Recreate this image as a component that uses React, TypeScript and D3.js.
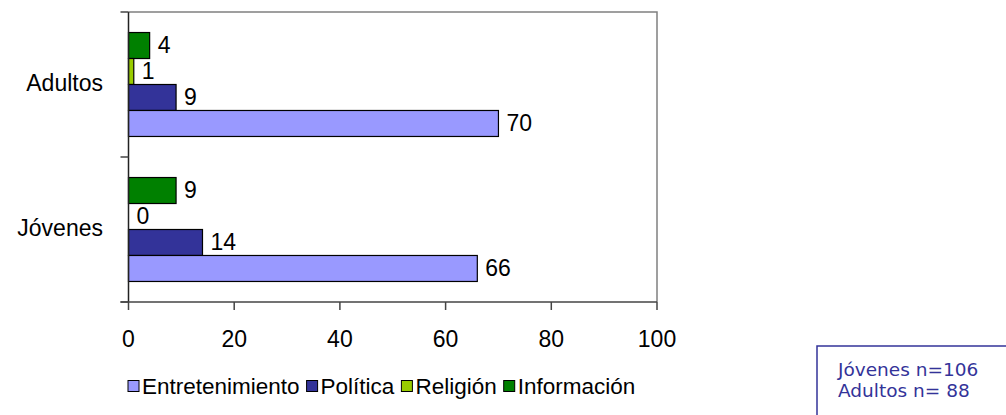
import React, { useEffect, useRef } from 'react';
import * as d3 from 'd3';

const categories = ['Adultos', 'Jóvenes'];
const seriesNames = ['Información', 'Religión', 'Política', 'Entretenimiento'];
const entretenimiento = [70, 66];
const politica = [9, 14];
const religion = [1, 0];
const informacion = [4, 9];
const xTicks = [0, 20, 40, 60, 80, 100];
const legendOrder = ['Entretenimiento', 'Política', 'Religión', 'Información'];
const sampleNotes = ['Jóvenes n=106', 'Adultos n= 88'];

const colors: Record<string, string> = {
  Entretenimiento: '#9999ff',
  Política: '#333399',
  Religión: '#99cc00',
  Información: '#008000',
};

const W = 1006;
const H = 415;
const FONT = '"Liberation Sans", Arial, sans-serif';

export default function App() {
  const ref = useRef<SVGSVGElement>(null);

  useEffect(() => {
    const svg = d3.select(ref.current);
    svg.selectAll('*').remove();

    const values: Record<string, number[]> = {
      Entretenimiento: entretenimiento,
      Política: politica,
      Religión: religion,
      Información: informacion,
    };

    const left = 128.5, right = 657, top = 12, bottom = 302;

    const x = d3.scaleLinear().domain([0, 100]).range([left, right]);
    const y0 = d3.scaleBand<string>().domain(categories).range([top, bottom]);
    const y1 = d3.scaleBand<string>()
      .domain(seriesNames)
      .range([0, y0.bandwidth()])
      .paddingInner(0)
      .paddingOuter(0.79);

    // frame: grey top/right border
    svg.append('path')
      .attr('d', `M${left},${top}H${right}V${bottom}`)
      .attr('fill', 'none')
      .attr('stroke', '#808080')
      .attr('stroke-width', 1.5);

    // bars + value labels
    categories.forEach((cat, ci) => {
      const g = svg.append('g').attr('transform', `translate(0,${y0(cat)})`);
      seriesNames.forEach((s) => {
        const v = values[s][ci];
        const by = y1(s)!;
        const bh = y1.bandwidth();
        if (v > 0) {
          g.append('rect')
            .attr('x', x(0))
            .attr('y', by)
            .attr('width', x(v) - x(0))
            .attr('height', bh)
            .attr('fill', colors[s])
            .attr('stroke', '#000')
            .attr('stroke-width', 1.2);
        }
        g.append('text')
          .attr('x', x(v) + 8)
          .attr('y', by + bh / 2 - 1)
          .attr('dy', '0.35em')
          .attr('font-family', FONT)
          .attr('font-size', 23)
          .attr('fill', '#000')
          .text(v);
      });
    });

    // y axis
    svg.append('line')
      .attr('x1', left).attr('x2', left)
      .attr('y1', top).attr('y2', bottom)
      .attr('stroke', '#222').attr('stroke-width', 1.5);
    const yTickPos = [top, ...categories.slice(1).map((c) => y0(c)!), bottom];
    yTickPos.forEach((p) => {
      svg.append('line')
        .attr('x1', left - 8).attr('x2', left)
        .attr('y1', p).attr('y2', p)
        .attr('stroke', '#444').attr('stroke-width', 1.5);
    });
    categories.forEach((c) => {
      svg.append('text')
        .attr('x', 103)
        .attr('y', y0(c)! + y0.bandwidth() / 2 - 2)
        .attr('dy', '0.35em')
        .attr('text-anchor', 'end')
        .attr('font-family', FONT)
        .attr('font-size', 23)
        .text(c);
    });

    // x axis
    svg.append('line')
      .attr('x1', left - 8).attr('x2', right)
      .attr('y1', bottom).attr('y2', bottom)
      .attr('stroke', '#444').attr('stroke-width', 1.5);
    xTicks.forEach((t) => {
      svg.append('line')
        .attr('x1', x(t)).attr('x2', x(t))
        .attr('y1', bottom).attr('y2', bottom + 8)
        .attr('stroke', '#444').attr('stroke-width', 1.5);
      svg.append('text')
        .attr('x', x(t))
        .attr('y', 347)
        .attr('text-anchor', 'middle')
        .attr('font-family', FONT)
        .attr('font-size', 23)
        .text(t);
    });

    // legend
    const lg = svg.append('g');
    let lx = 128;
    const ly = 386;
    legendOrder.forEach((s) => {
      lg.append('rect')
        .attr('x', lx).attr('y', ly - 5.5)
        .attr('width', 11).attr('height', 11)
        .attr('fill', colors[s])
        .attr('stroke', '#000')
        .attr('stroke-width', 1);
      const t = lg.append('text')
        .attr('x', lx + 14)
        .attr('y', ly)
        .attr('dy', '0.35em')
        .attr('font-family', FONT)
        .attr('font-size', 22.5)
        .text(s);
      const w = (t.node() as SVGTextElement).getComputedTextLength();
      lx += 14 + w + 7;
    });

    // sample size box
    svg.append('rect')
      .attr('x', 817).attr('y', 346)
      .attr('width', 220).attr('height', 100)
      .attr('fill', '#fff')
      .attr('stroke', '#333399')
      .attr('stroke-width', 1.5);
    sampleNotes.forEach((n, i) => {
      svg.append('text')
        .attr('x', 838)
        .attr('y', 376 + i * 21)
        .attr('font-family', '"DejaVu Sans", Verdana, sans-serif')
        .attr('font-size', 18.5)
        .attr('fill', '#333399')
        .text(n);
    });
  }, []);

  return (
    <div style={{ position: 'absolute', left: 0, top: 0 }}>
      <svg ref={ref} width={W} height={H} style={{ display: 'block', background: '#fff' }} />
    </div>
  );
}
